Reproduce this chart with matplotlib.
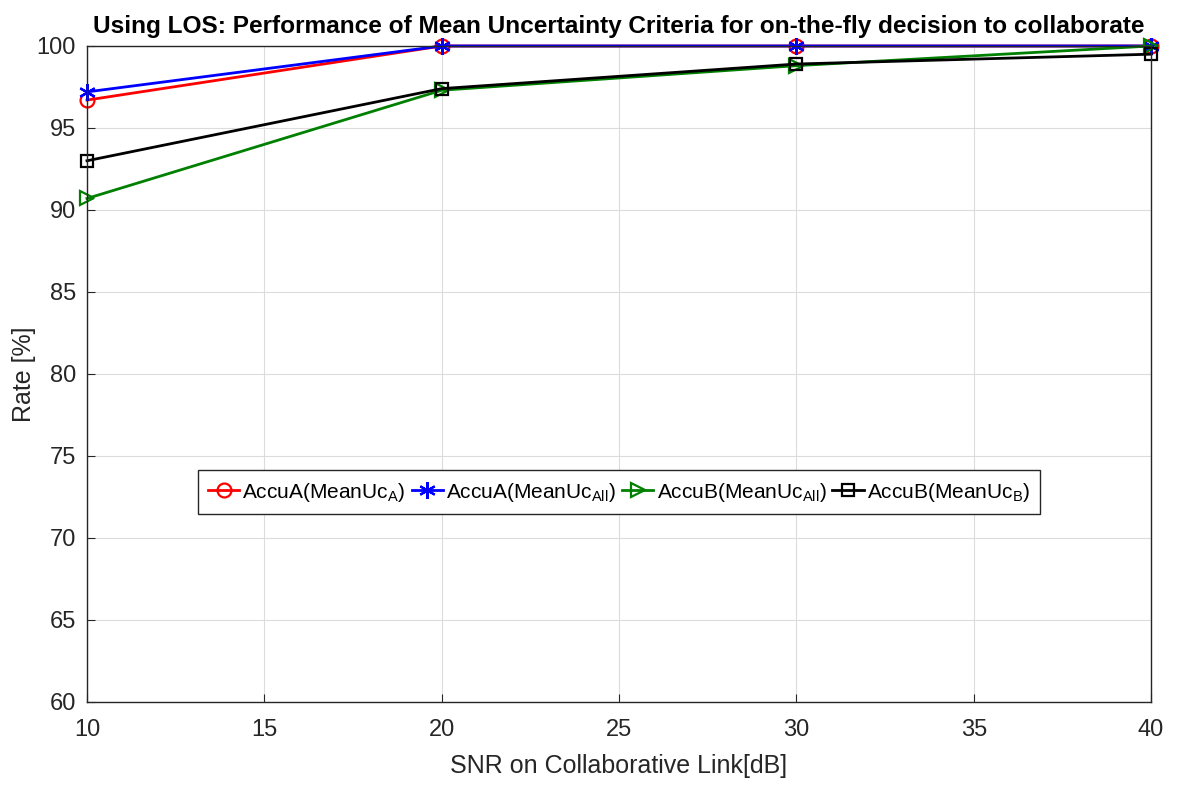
import matplotlib
matplotlib.use("Agg")
import matplotlib.pyplot as plt

plt.rcParams['font.family'] = ['Liberation Sans', 'DejaVu Sans']
plt.rcParams['mathtext.fontset'] = 'custom'
plt.rcParams['mathtext.rm'] = 'Liberation Sans'

# ── Data ─────────────────────────────────────────────────────────────────────
snr = [10, 20, 30, 40]
accuA_ucA = [96.7, 100, 100, 100]
accuA_ucAll = [97.2, 100, 100, 100]
accuB_ucAll = [90.7, 97.3, 98.8, 100]
accuB_ucB = [93.0, 97.4, 98.9, 99.5]

labels = [r'AccuA(MeanUc$_{\mathrm{A}}$)', r'AccuA(MeanUc$_{\mathrm{All}}$)',
          r'AccuB(MeanUc$_{\mathrm{All}}$)', r'AccuB(MeanUc$_{\mathrm{B}}$)']

fig = plt.figure(figsize=(11.77, 7.86), dpi=100)
ax = fig.add_axes([0.0739, 0.107, 0.9041, 0.8345])

style = dict(lw=2, mew=1.6, clip_on=False)
ax.plot(snr, accuA_ucA, '-o', color='red', ms=10, mfc='none', label=labels[0], **style)
ax.plot(snr, accuA_ucAll, '-', marker=(6, 2, 0), color='blue', ms=12, label=labels[1], **style)
ax.plot(snr, accuB_ucAll, '->', color='green', ms=10, mfc='none', label=labels[2], **style)
ax.plot(snr, accuB_ucB, '-s', color='black', ms=8, mfc='none', label=labels[3], **style)

ax.set_xlim(10, 40)
ax.set_ylim(60, 100)
ax.set_xticks(range(10, 41, 5))
ax.set_yticks(range(60, 101, 5))
ax.grid(True, color='#dcdcdc', lw=0.8)
ax.set_axisbelow(True)
ax.tick_params(direction='in', labelsize=17, colors='#262626', length=6)
ax.tick_params(axis='x', pad=12)
ax.tick_params(axis='y', pad=8)
for s in ax.spines.values():
    s.set_color('#262626')
    s.set_linewidth(1)

ax.set_xlabel('SNR on Collaborative Link[dB]', fontsize=18, color='#262626', labelpad=10)
ax.set_ylabel('Rate [%]', fontsize=18, color='#262626', labelpad=0)
ax.set_title('Using LOS: Performance of Mean Uncertainty Criteria for on-the-fly decision to collaborate',
             fontsize=17.6, fontweight='bold', pad=9)

leg = ax.legend(loc='center', bbox_to_anchor=(0.5, 0.32), ncol=4, fontsize=15,
                handlelength=1.5, handletextpad=0.15, columnspacing=0.3,
                fancybox=False, edgecolor='#262626', framealpha=1, borderpad=0.5,
                borderaxespad=0)
leg.get_frame().set_linewidth(1)

fig.savefig('out.png', dpi=100)
